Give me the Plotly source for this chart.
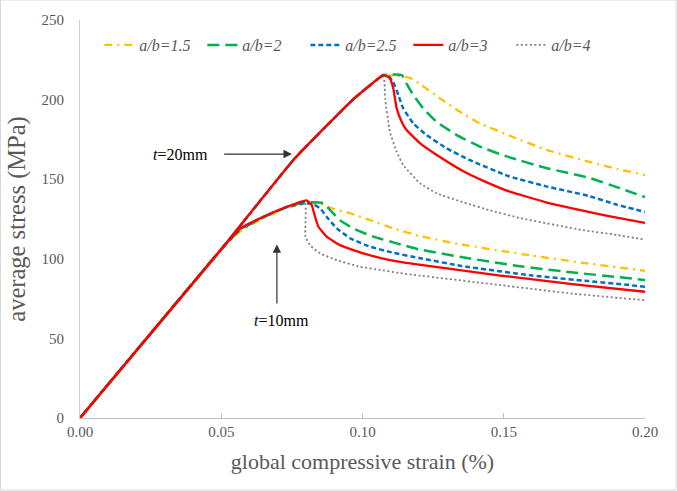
import plotly.graph_objects as go

# ---------------- data (strain %, stress MPa) ----------------
# t = 20 mm curves
x20_15 = [0.0, 0.05, 0.076, 0.0966, 0.103, 0.1074, 0.112, 0.1168, 0.121, 0.1274, 0.1345, 0.1416, 0.1516, 0.165, 0.18, 0.19, 0.2]
y20_15 = [0.0, 106.0, 163.0, 200.0, 209.5, 215.0, 215.0, 213.7, 209.0, 200.8, 192.4, 185.0, 177.7, 168.5, 161.0, 156.5, 152.6]
x20_2 = [0.0, 0.05, 0.076, 0.0966, 0.103, 0.1074, 0.1139, 0.1156, 0.118, 0.1215, 0.1263, 0.1334, 0.1416, 0.1516, 0.165, 0.18, 0.19, 0.2]
y20_2 = [0.0, 106.0, 163.0, 200.0, 209.5, 215.3, 215.4, 210.0, 202.8, 194.5, 186.0, 177.7, 170.4, 164.0, 157.0, 151.0, 145.0, 138.8]
x20_25 = [0.0, 0.05, 0.076, 0.0966, 0.103, 0.1074, 0.1091, 0.1109, 0.1127, 0.1144, 0.118, 0.1227, 0.1298, 0.138, 0.1516, 0.165, 0.18, 0.19, 0.2]
y20_25 = [0.0, 106.0, 163.0, 200.0, 209.5, 215.3, 215.0, 211.0, 202.8, 194.5, 185.0, 177.7, 169.4, 162.0, 152.0, 145.5, 139.5, 134.0, 129.4]
x20_3 = [0.0, 0.05, 0.076, 0.0966, 0.103, 0.1074, 0.1097, 0.1109, 0.1121, 0.1139, 0.1156, 0.1204, 0.1263, 0.1357, 0.144, 0.1516, 0.165, 0.18, 0.19, 0.2]
y20_3 = [0.0, 106.0, 163.0, 200.0, 209.5, 215.5, 213.3, 207.0, 194.5, 186.0, 180.9, 172.5, 165.2, 155.0, 148.0, 142.5, 135.5, 129.5, 125.8, 122.5]
x20_4 = [0.0, 0.05, 0.076, 0.0966, 0.103, 0.1074, 0.1078, 0.108, 0.1097, 0.1121, 0.1144, 0.1204, 0.1263, 0.1357, 0.145, 0.156, 0.178, 0.19, 0.2]
y20_4 = [0.0, 106.0, 163.0, 200.0, 209.5, 215.3, 210.0, 200.8, 179.8, 167.2, 158.9, 147.4, 141.1, 135.5, 130.5, 125.5, 118.0, 115.0, 112.0]

# t = 10 mm curves
x10_15 = [0.0, 0.05, 0.0566, 0.0649, 0.0732, 0.0797, 0.085, 0.0891, 0.0956, 0.1027, 0.1109, 0.1198, 0.135, 0.16, 0.18, 0.2]
y10_15 = [0.0, 106.0, 117.0, 125.5, 132.0, 134.5, 134.5, 131.7, 128.6, 124.3, 119.1, 114.5, 109.0, 102.0, 97.0, 92.5]
x10_2 = [0.0, 0.05, 0.0566, 0.0649, 0.0732, 0.0797, 0.0861, 0.0885, 0.092, 0.0967, 0.1038, 0.1121, 0.1198, 0.137, 0.155, 0.172, 0.2]
y10_2 = [0.0, 106.0, 118.0, 126.0, 132.5, 135.5, 135.0, 130.6, 124.3, 119.1, 113.9, 109.7, 106.0, 100.5, 95.5, 91.9, 86.7]
x10_25 = [0.0, 0.05, 0.0566, 0.0649, 0.0732, 0.0797, 0.082, 0.085, 0.0873, 0.0909, 0.0956, 0.1027, 0.1109, 0.12, 0.135, 0.16, 0.18, 0.2]
y10_25 = [0.0, 106.0, 118.5, 126.4, 132.5, 135.0, 134.5, 131.7, 126.4, 119.1, 112.9, 107.6, 103.8, 100.5, 95.5, 89.5, 86.0, 82.5]
x10_3 = [0.0, 0.05, 0.0566, 0.0649, 0.0732, 0.0802, 0.082, 0.0832, 0.0844, 0.0873, 0.092, 0.1003, 0.1097, 0.12, 0.1487, 0.175, 0.2]
y10_3 = [0.0, 106.0, 119.0, 126.4, 132.7, 136.7, 133.8, 126.4, 120.1, 113.9, 108.6, 103.4, 99.2, 96.3, 89.5, 84.0, 79.3]
x10_4 = [0.0, 0.05, 0.0566, 0.0649, 0.0732, 0.0796, 0.0798, 0.0814, 0.085, 0.0909, 0.0991, 0.1062, 0.1133, 0.1487, 0.175, 0.2]
y10_4 = [0.0, 106.0, 119.0, 126.4, 132.7, 135.5, 113.9, 108.6, 103.4, 99.2, 95.0, 93.0, 91.0, 83.5, 78.0, 74.0]

series_names = ["a/b=1.5", "a/b=2", "a/b=2.5", "a/b=3", "a/b=4"]
series_colors = ["#FFC000", "#00B050", "#0070C0", "#FF0000", "#808080"]
series_dash = ["8px,5px,2px,5px", "12px,6px", "5px,3px", "solid", "2px,2.5px"]
series_width = [2.3, 2.5, 2.5, 2.3, 1.8]

x_ticks = [0.0, 0.05, 0.10, 0.15, 0.20]
x_tick_labels = ["0.00", "0.05", "0.10", "0.15", "0.20"]
y_ticks = [0, 50, 100, 150, 200, 250]

data20 = [(x20_15, y20_15), (x20_2, y20_2), (x20_25, y20_25), (x20_3, y20_3), (x20_4, y20_4)]
data10 = [(x10_15, y10_15), (x10_2, y10_2), (x10_25, y10_25), (x10_3, y10_3), (x10_4, y10_4)]

FONT = "Liberation Serif"
GRAY = "#595959"

fig = go.Figure()
draw_order = [4, 0, 1, 2, 3]
for i in draw_order:
    line = dict(color=series_colors[i], width=series_width[i], dash=series_dash[i],
                shape="spline", smoothing=0.4)
    fig.add_trace(go.Scatter(x=data10[i][0], y=data10[i][1], mode="lines", line=line,
                             name="<i>" + series_names[i] + "</i>", legendgroup=str(i),
                             legendrank=i + 1, showlegend=True))
    fig.add_trace(go.Scatter(x=data20[i][0], y=data20[i][1], mode="lines", line=line,
                             name="<i>" + series_names[i] + "</i>", legendgroup=str(i),
                             showlegend=False))

fig.update_layout(
    width=677, height=491,
    margin=dict(l=80, r=32, t=20, b=73),
    paper_bgcolor="white", plot_bgcolor="white",
    font=dict(family=FONT, color=GRAY),
    showlegend=True,
    legend=dict(orientation="h", x=0.49, xanchor="center", y=0.937, yanchor="middle",
                font=dict(family=FONT, size=16, color=GRAY), bgcolor="rgba(0,0,0,0)",
                entrywidth=58, entrywidthmode="pixels", itemwidth=30,
                traceorder="normal"),
    xaxis=dict(range=[0, 0.2], tickvals=x_ticks, ticktext=x_tick_labels,
               showgrid=False, zeroline=False, showline=True, linecolor="#bfbfbf", linewidth=1,
               ticks="inside", ticklen=5, tickcolor="#bfbfbf",
               tickfont=dict(family=FONT, size=15, color=GRAY),
               title=dict(text="global compressive strain (%)", font=dict(family=FONT, size=22, color=GRAY),
                          standoff=14)),
    yaxis=dict(range=[0, 250], tickvals=y_ticks, showgrid=False, zeroline=False,
               showline=True, linecolor="#d0d0d0", linewidth=1, ticks="",
               ticklabelstandoff=12,
               tickfont=dict(family=FONT, size=15, color=GRAY),
               title=dict(text="average stress (MPa)", font=dict(family=FONT, size=24.5, color=GRAY),
                          standoff=8)),
)

# labels and arrows
fig.add_annotation(x=0.0354, y=165.5, xref="x", yref="y", text="<i>t</i>=20mm", showarrow=False,
                   font=dict(family=FONT, size=16, color="black"))
fig.add_annotation(x=0.0750, y=165.8, ax=0.0505, ay=165.8, xref="x", yref="y", axref="x", ayref="y",
                   text="", showarrow=True, arrowhead=2, arrowsize=1.4, arrowwidth=1.2, arrowcolor="#333333")
fig.add_annotation(x=0.0715, y=61.5, xref="x", yref="y", text="<i>t</i>=10mm", showarrow=False,
                   font=dict(family=FONT, size=16, color="black"))
fig.add_annotation(x=0.0697, y=109.0, ax=0.0697, ay=71.0, xref="x", yref="y", axref="x", ayref="y",
                   text="", showarrow=True, arrowhead=2, arrowsize=1.4, arrowwidth=1.2, arrowcolor="#333333")

# chart-area border
fig.add_shape(type="rect", xref="paper", yref="paper",
              x0=-79.5 / 565, x1=596 / 565, y0=-72 / 398, y1=418 / 398,
              line=dict(color="#d9d9d9", width=1), fillcolor="rgba(0,0,0,0)", layer="below")

fig.write_html("out.html")
